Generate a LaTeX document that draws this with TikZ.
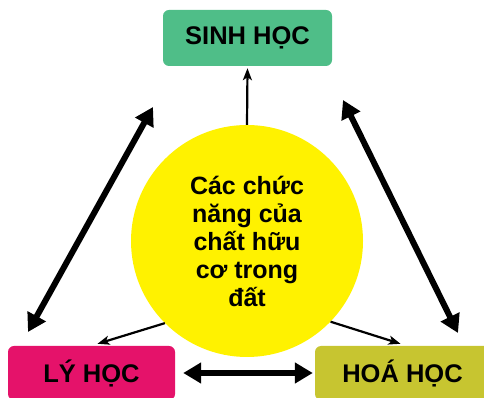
\documentclass[tikz,border=0pt]{standalone}
\usepackage{fontspec}
\setmainfont{Liberation Sans}
\usetikzlibrary{arrows.meta}
\definecolor{sinhgreen}{HTML}{4FBE88}
\definecolor{lypink}{HTML}{E5126A}
\definecolor{hoaolive}{HTML}{C7C530}
\definecolor{coreyellow}{HTML}{FFF200}
\tikzset{
  field/.style={rectangle, rounded corners=6pt, font=\bfseries\fontsize{25.5}{28}\selectfont, text=black, inner sep=0pt},
  core/.style={circle, fill=coreyellow, minimum size=232pt, inner sep=0pt, align=center,
    font=\bfseries\fontsize{25}{28}\selectfont},
  feed/.style={line width=2.2pt, -{Stealth[length=12pt,width=9pt,inset=3pt]}},
  link/.style={line width=6pt, {Triangle[length=18pt,width=20pt]}-{Triangle[length=18pt,width=20pt]}}
}
\begin{document}
\begin{tikzpicture}[x=1pt,y=1pt]
\useasboundingbox (0,0) rectangle (484,398);
\clip (0,0) rectangle (484,398);
% central circle and the three fields
\node[core] (c) at (247,157) {Các chức\\năng của\\chất hữu\\cơ trong\\đất};
\node[field, fill=sinhgreen, minimum width=169pt, minimum height=56pt] (sinh) at (247.5,360) {SINH HỌC};
\node[field, fill=lypink, minimum width=167pt, minimum height=54pt] (ly) at (91.5,25) {LÝ HỌC};
\node[field, fill=hoaolive, minimum width=175pt, minimum height=54pt] (hoa) at (402.5,25) {HOÁ HỌC};
% ends of the diagonal links
\coordinate (lyTop) at (28,66);
\coordinate (sinhL) at (153,291);
\coordinate (sinhR) at (343,298);
\coordinate (hoaTop) at (458,65);
% circle to each field
\draw[feed] (c.north) -- ([yshift=-2pt]sinh.south);
\draw[feed] (c.225) -- ([xshift=6pt,yshift=2pt]ly.north);
\draw[feed] (c.316) -- ([xshift=-2pt,yshift=2pt]hoa.north);
% links between fields
\draw[link] (lyTop) -- (sinhL);
\draw[link] (sinhR) -- (hoaTop);
\draw[link] ([xshift=8pt]ly.east) -- ([xshift=-2pt]hoa.west);
\end{tikzpicture}
\end{document}
